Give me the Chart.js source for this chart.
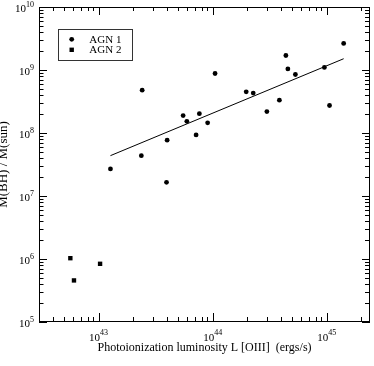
<!DOCTYPE html>
<html lang="en">
<head>
  <meta charset="UTF-8" />
  <title>M(BH) vs L[OIII]</title>
  <script src="https://cdn.jsdelivr.net/npm/chart.js"></script>
  <style>
    body {
      margin: 0;
      background: #fff;
    }
    #wrap {
      width: 374px;
      height: 366px;
    }
  </style>
</head>
<body>
  <div id="wrap">
    <canvas id="bhChart" width="374" height="366"></canvas>
  </div>
  <script>
    // values (x = L[OIII] erg/s, y = M(BH)/M(sun))
    const agn1L = [1.27e43, 2.37e43, 2.41e43, 3.99e43, 3.94e43, 5.51e43, 5.94e43, 7.65e43, 7.16e43, 9.04e43, 1.05e44,
                   1.97e44, 2.27e44, 2.99e44, 3.85e44, 4.39e44, 4.57e44, 5.32e44, 9.55e44, 1.06e45, 1.41e45];
    const agn1M = [2.69e7, 4.37e7, 4.79e8, 7.69e7, 1.65e7, 1.89e8, 1.53e8, 2.03e8, 9.33e7, 1.45e8, 8.8e8,
                   4.5e8, 4.3e8, 2.19e8, 3.32e8, 1.70e9, 1.04e9, 8.48e8, 1.10e9, 2.73e8, 2.64e9];
    const agn2L = [5.65e42, 6.08e42, 1.03e43];
    const agn2M = [1.03e6, 4.57e5, 8.39e5];
    const fitL = [1.27e43, 1.41e45];
    const fitM = [4.37e7, 1.51e9];

    const xRange = [3e42, 2.4e45];
    const yRange = [1e5, 1e10];
    const xTickExp = [43, 44, 45];
    const yTickExp = [5, 6, 7, 8, 9, 10];

    const serif = "'Liberation Serif', 'DejaVu Serif', serif";

    function pts(xs, ys) {
      return xs.map((x, i) => ({ x: x, y: ys[i] }));
    }

    // all 1..9 x 10^n values inside a range
    function logTicks(min, max) {
      const out = [];
      for (let e = Math.floor(Math.log10(min)); e <= Math.ceil(Math.log10(max)); e++) {
        for (let k = 1; k <= 9; k++) {
          const v = k * Math.pow(10, e);
          if (v >= min * 0.999 && v <= max * 1.001) out.push({ v: v, major: k === 1 });
        }
      }
      return out;
    }

    function drawPow(ctx, x, y, exp, align) {
      ctx.font = '11px ' + serif;
      const wBase = ctx.measureText('10').width;
      ctx.font = '8px ' + serif;
      const wExp = ctx.measureText(String(exp)).width;
      const total = wBase + wExp;
      let x0 = align === 'right' ? x - total : x - total / 2;
      ctx.textAlign = 'left';
      ctx.textBaseline = 'middle';
      ctx.font = '11px ' + serif;
      ctx.fillText('10', x0, y);
      ctx.font = '8px ' + serif;
      ctx.fillText(String(exp), x0 + wBase, y - 5);
    }

    const framePlugin = {
      id: 'framePlugin',
      afterDraw(chart) {
        const ctx = chart.ctx;
        const a = chart.chartArea;
        const xs = chart.scales.x;
        const ys = chart.scales.y;
        ctx.save();
        ctx.strokeStyle = '#000';
        ctx.lineWidth = 1;
        ctx.strokeRect(Math.round(a.left) + 0.5, Math.round(a.top) + 0.5,
                       Math.round(a.right - a.left) - 1, Math.round(a.bottom - a.top) - 1);

        ctx.beginPath();
        logTicks(xRange[0], xRange[1]).forEach(t => {
          const px = Math.round(xs.getPixelForValue(t.v)) + 0.5;
          const lb = t.major ? 9 : 5;
          const lt = t.major ? 8 : 4;
          ctx.moveTo(px, a.bottom); ctx.lineTo(px, a.bottom - lb);
          ctx.moveTo(px, a.top); ctx.lineTo(px, a.top + lt);
        });
        logTicks(yRange[0], yRange[1]).forEach(t => {
          const py = Math.round(ys.getPixelForValue(t.v)) + 0.5;
          const ll = t.major ? 8 : 4.5;
          const lr = t.major ? 8 : 5;
          ctx.moveTo(a.left, py); ctx.lineTo(a.left + ll, py);
          ctx.moveTo(a.right, py); ctx.lineTo(a.right - lr, py);
        });
        ctx.stroke();

        ctx.fillStyle = '#000';
        xTickExp.forEach(e => {
          drawPow(ctx, xs.getPixelForValue(Math.pow(10, e)), a.bottom + 16, e, 'center');
        });
        yTickExp.forEach(e => {
          drawPow(ctx, a.left - 5, ys.getPixelForValue(Math.pow(10, e)) + 2.5, e, 'right');
        });

        // legend box
        const lx = 58.5, ly = 29.5, lw = 74, lh = 31;
        ctx.strokeStyle = '#333';
        ctx.strokeRect(lx, ly, lw, lh);
        const entries = chart.data.datasets.filter(d => d.showInLegend);
        entries.forEach((d, i) => {
          const cy = 39.3 + i * 10.5;
          ctx.fillStyle = '#000';
          if (d.pointStyle === 'rect') {
            ctx.fillRect(69.5, cy - 2.2, 4.4, 4.4);
          } else {
            ctx.beginPath();
            ctx.arc(71.7, cy, 2.4, 0, Math.PI * 2);
            ctx.fill();
          }
          ctx.font = '11px ' + serif;
          ctx.textAlign = 'left';
          ctx.textBaseline = 'middle';
          ctx.fillText(d.label, 89.3, cy + 0.5);
        });
        ctx.restore();
      }
    };

    const chart = new Chart(document.getElementById('bhChart'), {
      type: 'scatter',
      data: {
        datasets: [
          {
            label: 'AGN 1',
            showInLegend: true,
            data: pts(agn1L, agn1M),
            pointStyle: 'circle',
            pointRadius: 2.4,
            backgroundColor: '#000',
            borderWidth: 0
          },
          {
            label: 'AGN 2',
            showInLegend: true,
            data: pts(agn2L, agn2M),
            pointStyle: 'rect',
            pointRadius: 3.1,
            backgroundColor: '#000',
            borderWidth: 0
          },
          {
            label: 'fit',
            type: 'line',
            data: pts(fitL, fitM),
            borderColor: '#000',
            borderWidth: 1,
            pointRadius: 0,
            fill: false
          }
        ]
      },
      options: {
        responsive: false,
        animation: false,
        layout: { padding: { top: 7, right: 1, left: 0, bottom: 0 } },
        plugins: {
          legend: { display: false },
          tooltip: { enabled: false }
        },
        scales: {
          x: {
            type: 'logarithmic',
            min: xRange[0],
            max: xRange[1],
            grid: { display: false, drawTicks: false },
            border: { display: false },
            ticks: { display: false },
            title: {
              display: true,
              text: 'Photoionization luminosity L [OIII]  (ergs/s)',
              color: '#000',
              font: { family: serif, size: 12 },
              padding: { top: 0, bottom: 11 }
            },
            afterFit: s => { s.height = 44; }
          },
          y: {
            type: 'logarithmic',
            min: yRange[0],
            max: yRange[1],
            grid: { display: false, drawTicks: false },
            border: { display: false },
            ticks: { display: false },
            title: {
              display: true,
              text: 'M(BH) / M(sun)',
              color: '#000',
              font: { family: serif, size: 13, lineHeight: 0.6 },
              padding: { top: 0, bottom: 0 }
            },
            afterFit: s => { s.width = 39; }
          }
        }
      },
      plugins: [framePlugin]
    });
  </script>
</body>
</html>
